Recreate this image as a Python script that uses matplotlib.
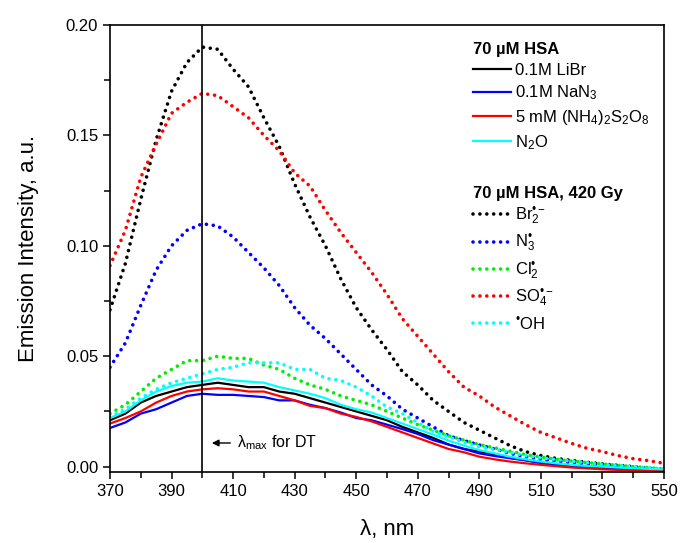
import matplotlib
matplotlib.use('Agg')
import matplotlib.pyplot as plt
from matplotlib.ticker import FixedLocator, MultipleLocator, FormatStrFormatter

plt.rcParams['font.family'] = ['Liberation Sans', 'DejaVu Sans']
plt.rcParams['mathtext.fontset'] = 'custom'
plt.rcParams['mathtext.rm'] = 'Liberation Sans'
plt.rcParams['mathtext.it'] = 'Liberation Sans:italic'
plt.rcParams['mathtext.bf'] = 'Liberation Sans:bold'

# wavelength grid, nm
wl = list(range(370, 555, 5))

# 70 uM HSA, not irradiated (solid)
libr = [0.021, 0.024, 0.029, 0.032, 0.034, 0.036, 0.037, 0.038, 0.037, 0.036,
        0.036, 0.034, 0.033, 0.031, 0.029, 0.027, 0.025, 0.023, 0.021, 0.018,
        0.0155, 0.013, 0.010, 0.008, 0.0068, 0.0052, 0.004, 0.003, 0.0018, 0.001,
        0.0003, 0.0, -0.0003, -0.0006, -0.001, -0.0012, -0.0015]
nan3 = [0.0175, 0.020, 0.024, 0.026, 0.029, 0.032, 0.033, 0.0325, 0.0325, 0.032,
        0.0315, 0.030, 0.030, 0.028, 0.0265, 0.0245, 0.022, 0.021, 0.019, 0.017,
        0.0148, 0.012, 0.010, 0.008, 0.006, 0.0048, 0.0038, 0.0028, 0.0016, 0.0008,
        0.0002, -0.0002, -0.0005, -0.0008, -0.001, -0.0012, -0.0015]
s2o8 = [0.0195, 0.022, 0.025, 0.029, 0.032, 0.034, 0.035, 0.0355, 0.035, 0.034,
        0.034, 0.032, 0.030, 0.0275, 0.0265, 0.024, 0.0225, 0.0205, 0.018, 0.0155,
        0.013, 0.0105, 0.008, 0.0065, 0.0045, 0.0033, 0.0023, 0.0015, 0.0008, 0.0002,
        -0.0004, -0.0008, -0.0012, -0.0015, -0.0017, -0.0018, -0.002]
n2o = [0.022, 0.025, 0.030, 0.034, 0.0365, 0.038, 0.0385, 0.040, 0.039, 0.0385,
       0.038, 0.036, 0.0345, 0.033, 0.031, 0.028, 0.026, 0.0245, 0.022, 0.0195,
       0.017, 0.0145, 0.0118, 0.0095, 0.0075, 0.006, 0.0045, 0.0033, 0.0023, 0.0015,
       0.0008, 0.0003, 0.0, -0.0004, -0.0007, -0.001, -0.0012]

# 70 uM HSA, 420 Gy (dotted)
br2 = [0.071, 0.092, 0.121, 0.148, 0.170, 0.183, 0.190, 0.189, 0.180, 0.172,
       0.158, 0.145, 0.128, 0.113, 0.100, 0.085, 0.072, 0.062, 0.053, 0.043,
       0.037, 0.030, 0.025, 0.020, 0.0165, 0.013, 0.0095, 0.0068, 0.005, 0.0037,
       0.0028, 0.002, 0.0012, 0.0006, 0.0, -0.0008, -0.0015]
n3 = [0.045, 0.056, 0.073, 0.089, 0.100, 0.107, 0.110, 0.109, 0.104, 0.097,
      0.090, 0.082, 0.072, 0.064, 0.058, 0.051, 0.044, 0.037, 0.032, 0.026,
      0.022, 0.018, 0.014, 0.0118, 0.0098, 0.008, 0.006, 0.0045, 0.0033, 0.0025,
      0.0018, 0.0012, 0.0004, 0.0, -0.0004, -0.0008, -0.0015]
cl2 = [0.024, 0.028, 0.034, 0.040, 0.044, 0.048, 0.048, 0.050, 0.049, 0.049,
       0.046, 0.044, 0.040, 0.037, 0.035, 0.032, 0.030, 0.028, 0.025, 0.022,
       0.019, 0.0165, 0.014, 0.012, 0.010, 0.0085, 0.007, 0.0055, 0.0043, 0.0033,
       0.0025, 0.0018, 0.0012, 0.0006, 0.0, -0.0005, -0.001]
so4 = [0.091, 0.107, 0.131, 0.146, 0.160, 0.165, 0.169, 0.168, 0.163, 0.158,
       0.150, 0.143, 0.133, 0.127, 0.116, 0.106, 0.097, 0.088, 0.078, 0.067,
       0.059, 0.051, 0.043, 0.036, 0.032, 0.027, 0.023, 0.019, 0.0155, 0.013,
       0.0105, 0.0083, 0.0068, 0.005, 0.0036, 0.0027, 0.0015]
oh = [0.0225, 0.026, 0.031, 0.035, 0.038, 0.040, 0.042, 0.044, 0.045, 0.047,
      0.047, 0.047, 0.044, 0.044, 0.040, 0.039, 0.036, 0.032, 0.027, 0.024,
      0.020, 0.016, 0.0135, 0.011, 0.009, 0.0078, 0.0065, 0.005, 0.004, 0.0032,
      0.0025, 0.0018, 0.001, 0.0005, 0.0, -0.0005, -0.001]

solid_labels = ['0.1M LiBr', '0.1M NaN$_3$', '5 mM (NH$_4$)$_2$S$_2$O$_8$', 'N$_2$O']
dot_labels = ['Br$_2^{•-}$', 'N$_3^{•}$', 'Cl$_2^{•}$', 'SO$_4^{•-}$', '$^{•}$OH']

xticks_major = [370, 390, 410, 430, 450, 470, 490, 510, 530, 550]

dots = (0, (0.01, 1.9))

fig = plt.figure(figsize=(6.81, 5.43), dpi=100)
ax = fig.add_axes([0.1615, 0.1313, 0.8135, 0.8227])

solid = [(libr, 'black'), (nan3, '#0000ff'), (s2o8, '#ff0000'), (n2o, '#00ffff')]
dotted = [(br2, 'black'), (n3, '#0000ff'), (cl2, '#00ee00'), (so4, '#ff0000'), (oh, '#00ffff')]

h2 = []
for y, c in dotted:
    l, = ax.plot(wl, y, color=c, lw=2.6, linestyle=dots, dash_capstyle='round')
    h2.append(l)
h1 = []
for y, c in solid:
    l, = ax.plot(wl, y, color=c, lw=1.6)
    h1.append(l)

ax.axvline(400, color='black', lw=1.2)
ax.annotate('', xy=(402.2, 0.0107), xytext=(410, 0.0107),
            arrowprops=dict(arrowstyle='-|>', color='black', lw=1, mutation_scale=10))
ax.text(411.2, 0.0107, 'λ$_{\\rm max}$ for DT', fontsize=11.5, va='center', ha='left')

ax.set_xlim(370, 550)
ax.set_ylim(-0.0023, 0.20)
ax.xaxis.set_major_locator(FixedLocator(xticks_major))
ax.xaxis.set_minor_locator(MultipleLocator(10))
ax.yaxis.set_major_locator(MultipleLocator(0.05))
ax.yaxis.set_minor_locator(MultipleLocator(0.025))
ax.yaxis.set_major_formatter(FormatStrFormatter('%.2f'))
ax.tick_params(which='both', direction='out', top=False, right=False, labelsize=12, width=1.1)
ax.tick_params(which='major', length=5)
ax.tick_params(which='minor', length=4)
for s in ax.spines.values():
    s.set_linewidth(1.2)

ax.set_xlabel('λ, nm', fontsize=16, labelpad=15)
ax.set_ylabel('Emission Intensity, a.u.', fontsize=16, labelpad=19)

leg1 = ax.legend(h1, solid_labels, title='70 µM HSA', loc='upper left',
                 bbox_to_anchor=(0.655, 0.962), frameon=False, fontsize=12,
                 title_fontproperties={'weight': 'bold', 'size': 12}, alignment='left',
                 handlelength=2.3, handletextpad=0.25, labelspacing=0.35,
                 borderpad=0, borderaxespad=0)
ax.add_artist(leg1)
leg2 = ax.legend(h2, dot_labels, title='70 µM HSA, 420 Gy', loc='upper left',
                 bbox_to_anchor=(0.655, 0.64), frameon=False, fontsize=12,
                 title_fontproperties={'weight': 'bold', 'size': 12}, alignment='left',
                 handlelength=2.3, handletextpad=0.25, labelspacing=0.25,
                 borderpad=0, borderaxespad=0)

fig.savefig('out.png', dpi=100)
